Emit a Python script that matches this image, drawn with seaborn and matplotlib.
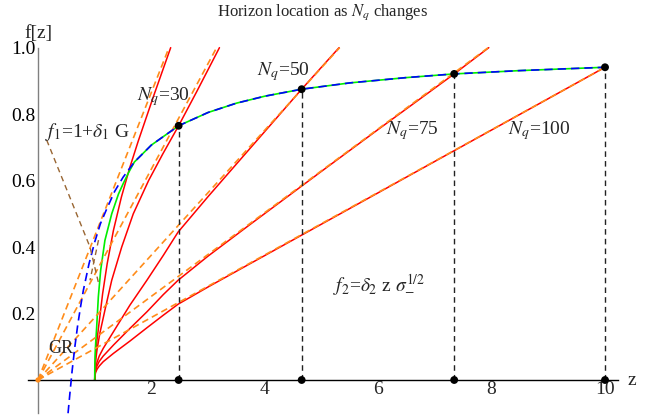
import numpy as np
import matplotlib
matplotlib.use("Agg")
import matplotlib.pyplot as plt
import seaborn as sns

# horizon points (N_q = 30, 50, 75, 100)
horizon_z = [2.48, 4.65, 7.34, 10.0]
horizon_f = [0.765, 0.875, 0.921, 0.941]
nq_labels = ["$N_q$=30", "$N_q$=50", "$N_q$=75", "$N_q$=100"]

# horizon curve (blue dashed)
blue_z = [0.53, 0.56, 0.60, 0.65, 0.70, 0.75, 0.80, 0.90, 1.00, 1.10, 1.20, 1.35,
          1.50, 1.70, 2.00, 2.48, 3.00, 3.50, 4.00, 4.65, 5.50, 6.50, 7.34, 8.50, 10.0]
blue_f = [-0.10, -0.045, 0.025, 0.10, 0.165, 0.22, 0.27, 0.35, 0.415, 0.47, 0.51, 0.567,
          0.61, 0.656, 0.707, 0.765, 0.805, 0.833, 0.854, 0.875, 0.894, 0.91, 0.921, 0.931, 0.941]

# green curve
green_z = [1.0, 1.002, 1.008, 1.017, 1.035, 1.064, 1.105, 1.18, 1.30, 1.42, 1.50, 1.60, 1.70,
           2.00, 2.48, 3.00, 3.50, 4.00, 4.65, 5.50, 6.50, 7.34, 8.50, 10.0]
green_f = [0.0, 0.04, 0.08, 0.11, 0.16, 0.25, 0.33, 0.42, 0.50, 0.56, 0.59, 0.625, 0.656,
           0.707, 0.765, 0.805, 0.833, 0.854, 0.875, 0.894, 0.91, 0.921, 0.931, 0.941]

# red curves, one per N_q (plus the steepest one)
red_a_z = [1.0, 1.003, 1.015, 1.04, 1.076, 1.14, 1.22, 1.33, 1.47, 1.62, 1.77, 2.05, 2.34]
red_a_f = [0.0, 0.03, 0.07, 0.12, 0.17, 0.26, 0.35, 0.45, 0.55, 0.64, 0.72, 0.86, 1.0]
red_b_z = [1.0, 1.003, 1.015, 1.04, 1.09, 1.18, 1.30, 1.476, 1.68, 1.95, 2.2, 2.48, 2.8, 3.2]
red_b_f = [0.0, 0.025, 0.055, 0.09, 0.14, 0.21, 0.30, 0.40, 0.50, 0.60, 0.68, 0.765, 0.868, 1.0]
red_c_z = [1.0, 1.003, 1.015, 1.04, 1.08, 1.15, 1.33, 1.62, 1.92, 2.21, 2.47, 3.0, 3.74, 4.65, 5.31]
red_c_f = [0.0, 0.018, 0.035, 0.053, 0.072, 0.095, 0.145, 0.225, 0.30, 0.375, 0.445, 0.552,
           0.697, 0.875, 1.0]
red_d_z = [1.0, 1.003, 1.015, 1.04, 1.08, 1.15, 1.33, 1.62, 1.92, 2.21, 2.47, 3.0, 3.74,
           5.0, 6.0, 7.34, 7.95]
red_d_f = [0.0, 0.015, 0.028, 0.042, 0.056, 0.072, 0.105, 0.155, 0.205, 0.257, 0.30, 0.373,
           0.468, 0.628, 0.754, 0.921, 1.0]
red_e_z = [1.0, 1.003, 1.015, 1.04, 1.08, 1.15, 1.33, 1.62, 1.92, 2.21, 2.47, 3.0, 3.74,
           5.0, 7.34, 10.0]
red_e_f = [0.0, 0.012, 0.022, 0.032, 0.042, 0.055, 0.08, 0.117, 0.157, 0.195, 0.228, 0.28,
           0.35, 0.469, 0.69, 0.941]
red_curves = [(red_a_z, red_a_f), (red_b_z, red_b_f), (red_c_z, red_c_f),
              (red_d_z, red_d_f), (red_e_z, red_e_f)]

# straight asymptotes f2 (orange dashed), from the origin
orange_end_z = [2.31, 3.15, 5.32, 7.94, 10.0]
orange_end_f = [1.0, 1.0, 1.0, 1.0, 0.941]

# brown dashed f1 pointer
brown1_z = [0.153, 0.917, 1.063]
brown1_f = [0.722, 0.40, 0.295]
brown2_z = [1.067, 0.917]
brown2_f = [0.421, 0.30]

sns.set_style("white")
plt.rcParams["font.family"] = ["Liberation Serif", "DejaVu Serif"]
plt.rcParams["mathtext.fontset"] = "stix"

fig = plt.figure(figsize=(6.65, 4.17), dpi=100)
ax = fig.add_axes([27.23 / 665, 0.45 / 417, 594.8 / 665, 370.55 / 417])
ax.set_xlim(-0.19, 10.3)
ax.set_ylim(-0.11, 1.005)

for rz, rf in red_curves:
    sns.lineplot(x=rz, y=rf, sort=False, estimator=None, color="#ff0000",
                 linewidth=1.1, ax=ax, zorder=2)

sns.lineplot(x=green_z, y=green_f, sort=False, estimator=None, color="#00ee00",
             linewidth=1.2, ax=ax, zorder=2)

for ez, ef in zip(orange_end_z, orange_end_f):
    sns.lineplot(x=[0.0, ez], y=[0.0, ef], sort=False, estimator=None,
                 color="#ff8c1a", linewidth=1.2, linestyle=(0, (4, 2.5)), ax=ax, zorder=3)

sns.lineplot(x=blue_z, y=blue_f, sort=False, estimator=None, color="#0000ff",
             linewidth=1.2, linestyle=(0, (5, 3)), ax=ax, zorder=3)

sns.lineplot(x=brown1_z, y=brown1_f, sort=False, estimator=None, color="#996633",
             linewidth=1.0, linestyle=(0, (4, 3)), ax=ax, zorder=3)
sns.lineplot(x=brown2_z, y=brown2_f, sort=False, estimator=None, color="#996633",
             linewidth=1.0, linestyle=(0, (4, 3)), ax=ax, zorder=3)

for hz, hf in zip(horizon_z, horizon_f):
    sns.lineplot(x=[hz, hz], y=[0.0, hf], sort=False, estimator=None, color="#222222",
                 linewidth=1.0, linestyle=(0, (4, 3)), ax=ax, zorder=4)

sns.scatterplot(x=horizon_z + horizon_z, y=horizon_f + [0.0] * 4, color="black",
                s=32, edgecolor="none", ax=ax, zorder=5, clip_on=False)
sns.scatterplot(x=[0.0], y=[0.0], color="#ff8c1a", s=14, edgecolor="none", ax=ax, zorder=5)

# Mathematica-like axes through the origin
for side in ["top", "right"]:
    ax.spines[side].set_visible(False)
ax.spines["left"].set_position(("data", 0))
ax.spines["bottom"].set_position(("data", 0))
ax.spines["left"].set_bounds(-0.1, 1.0)
ax.spines["bottom"].set_bounds(-0.17, 10.23)
ax.spines["left"].set_color("#808080")
ax.spines["bottom"].set_color("black")
ax.spines["left"].set_linewidth(1.0)
ax.spines["bottom"].set_linewidth(1.0)

ax.set_xticks([2, 4, 6, 8, 10])
ax.set_xticklabels(["2", "4", "6", "8", "10"])
ax.set_xticks(np.arange(0.5, 10.01, 0.5), minor=True)
ax.set_yticks([0.2, 0.4, 0.6, 0.8, 1.0])
ax.set_yticklabels(["0.2", "0.4", "0.6", "0.8", "1.0"])
ax.set_yticks(np.arange(-0.05, 1.001, 0.05), minor=True)
ax.tick_params(axis="x", which="both", direction="in", color="black", labelsize=14, pad=1)
ax.tick_params(axis="y", which="both", direction="in", color="#808080",
               labelcolor="black", labelsize=14, pad=2)
ax.tick_params(which="major", length=5, width=0.8)
ax.tick_params(which="minor", length=2.8, width=0.8)
for lab in ax.get_xticklabels() + ax.get_yticklabels():
    lab.set_family(["Liberation Serif", "DejaVu Serif"])
ax.set_xlabel("")
ax.set_ylabel("")
ax.grid(False)

ax.text(0.0, 1.044, "f[z]", ha="center", va="center", fontsize=14, clip_on=False)
ax.text(10.48, -0.003, "z", ha="center", va="center", fontsize=14, clip_on=False)

label_pos = [(2.22, 0.852), (4.32, 0.927), (6.61, 0.752), (8.84, 0.752)]
for (lz, lf), lab in zip(label_pos, nq_labels):
    ax.text(lz, lf, lab, ha="center", va="center", fontsize=14)

ax.text(0.12, 0.746, "$f_1$=1+$\\delta_1$ G", ha="left", va="center", fontsize=14)
ax.text(0.406, 0.096, "GR", ha="center", va="center", fontsize=13)
ax.text(5.20, 0.286, "$f_2$=$\\delta_2$ z $\\sigma_{-}^{1/2}$", ha="left", va="center", fontsize=14)

fig.text(322.5 / 665, 1 - 12 / 417, "Horizon location as $N_q$ changes",
         ha="center", va="center", fontsize=12)

fig.savefig("out.png", dpi=100)
